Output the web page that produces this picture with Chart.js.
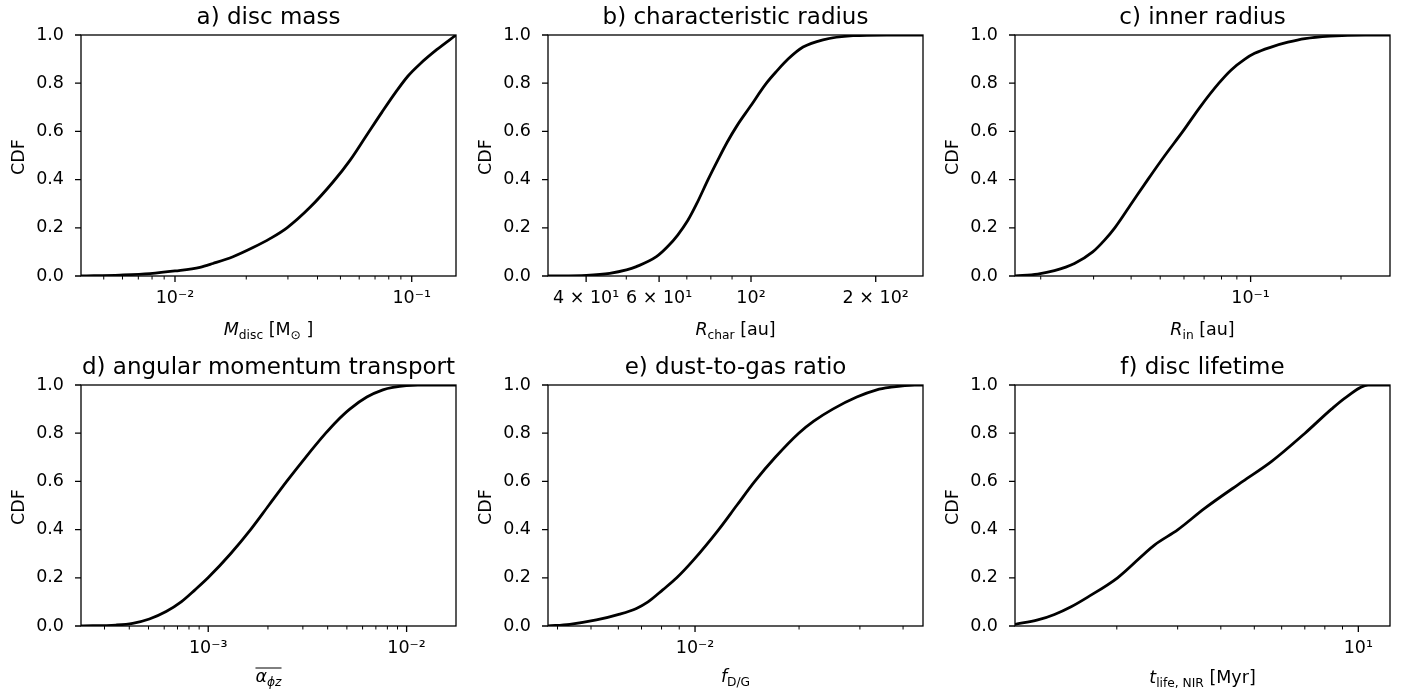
<!DOCTYPE html>
<html>
<head>
<meta charset="utf-8">
<script src="https://cdn.jsdelivr.net/npm/chart.js@4.4.1/dist/chart.umd.min.js"></script>
<style>
html,body{margin:0;padding:0;background:#ffffff;}
body{width:1408px;height:698px;position:relative;overflow:hidden;}
canvas{position:absolute;}
</style>
</head>
<body>
<canvas id="pa"></canvas>
<canvas id="pb"></canvas>
<canvas id="pc"></canvas>
<canvas id="pd"></canvas>
<canvas id="pe"></canvas>
<canvas id="pf"></canvas>
<script>
// ---------------- DATA ----------------
const panelTitles = ['a) disc mass', 'b) characteristic radius', 'c) inner radius',
                     'd) angular momentum transport', 'e) dust-to-gas ratio', 'f) disc lifetime'];
const yLabel = 'CDF';
const yTickValues = [0, 0.2, 0.4, 0.6, 0.8, 1.0];
const yTickLabels = ['0.0', '0.2', '0.4', '0.6', '0.8', '1.0'];

// a) disc mass [Msun]
const massX   = [0.004008, 0.005855, 0.007842, 0.01, 0.012752, 0.014468, 0.017579, 0.021359, 0.025199, 0.029725,
                 0.037190, 0.046504, 0.054857, 0.064097, 0.074899, 0.086657, 0.096466, 0.108396, 0.127888, 0.153850];
const massCdf = [0, 0.004, 0.010, 0.021, 0.036, 0.052, 0.080, 0.118, 0.155, 0.200,
                 0.285, 0.390, 0.48, 0.58, 0.68, 0.77, 0.83, 0.88, 0.94, 1.0];
const massRange = [0.004008, 0.15385];
const massMajor = [0.01, 0.1];
const massMajorLabels = ['10⁻²', '10⁻¹'];
const massMinor = [0.005, 0.006, 0.007, 0.008, 0.009, 0.02, 0.03, 0.04, 0.05, 0.06, 0.07, 0.08, 0.09];

// b) characteristic radius [au]
const rcharX   = [32.36, 40.07, 45.60, 50.05, 52.90, 59.11, 62.93, 66.54, 70.36, 73.95, 78.76, 83.10, 87.59,
                  92.62, 99.29, 108.95, 115.35, 122.86, 133.55, 149.20, 176.29, 212.3, 260.1];
const rcharCdf = [0, 0.003, 0.011, 0.025, 0.039, 0.08, 0.122, 0.17, 0.23, 0.30, 0.40, 0.48, 0.555,
                  0.625, 0.70, 0.80, 0.85, 0.90, 0.95, 0.98, 0.997, 1.0, 1.0];
const rcharRange = [32.36, 260.1];
const rcharMajor = [40, 60, 100, 200];
const rcharMajorLabels = ['4 × 10¹', '6 × 10¹', '10²', '2 × 10²'];
const rcharMinor = [50, 70, 80, 90];

// c) inner radius [au]
const rinX   = [0.016420, 0.019544, 0.022216, 0.025906, 0.029799, 0.032683, 0.035290, 0.040051, 0.045462, 0.051810, 0.059469,
                0.067766, 0.078404, 0.086178, 0.095717, 0.103117, 0.117070, 0.133131, 0.151705, 0.183781, 0.240436, 0.291205];
const rinCdf = [0, 0.008, 0.022, 0.052, 0.10, 0.15, 0.20, 0.30, 0.40, 0.50, 0.60,
                0.70, 0.80, 0.855, 0.90, 0.924, 0.95, 0.97, 0.985, 0.995, 1.0, 1.0];
const rinRange = [0.01642, 0.291205];
const rinMajor = [0.1];
const rinMajorLabels = ['10⁻¹'];
const rinMinor = [0.02, 0.03, 0.04, 0.05, 0.06, 0.07, 0.08, 0.09, 0.2];

// d) angular momentum transport
const alphaX   = [0.0002284, 0.0003429, 0.0004161, 0.0005051, 0.0006135, 0.0007305, 0.0008577, 0.0009977, 0.0012962, 0.0016354, 0.0020162,
                  0.0024857, 0.0030989, 0.0039112, 0.0044463, 0.0051708, 0.0063020, 0.0075920, 0.0085272, 0.0114017, 0.0177419];
const alphaCdf = [0, 0.004, 0.011, 0.029, 0.06, 0.10, 0.15, 0.20, 0.30, 0.40, 0.50,
                  0.60, 0.70, 0.80, 0.85, 0.90, 0.95, 0.98, 0.99, 1.0, 1.0];
const alphaRange = [0.0002284, 0.0177419];
const alphaMajor = [0.001, 0.01];
const alphaMajorLabels = ['10⁻³', '10⁻²'];
const alphaMinor = [0.0003, 0.0004, 0.0005, 0.0006, 0.0007, 0.0008, 0.0009, 0.002, 0.003, 0.004, 0.005, 0.006, 0.007, 0.008, 0.009];

// e) dust-to-gas ratio
const dgX   = [0.0037540, 0.0043379, 0.0051834, 0.0060539, 0.0067673, 0.0073107, 0.0080628, 0.0088522, 0.0098478, 0.0117074, 0.0131985,
               0.0148904, 0.0170690, 0.0199563, 0.0220574, 0.0250385, 0.0293800, 0.0335612, 0.0366026, 0.0432247, 0.0456800];
const dgCdf = [0, 0.007, 0.025, 0.049, 0.073, 0.10, 0.15, 0.20, 0.27, 0.40, 0.50,
               0.60, 0.70, 0.80, 0.85, 0.90, 0.95, 0.98, 0.99, 1.0, 1.0];
const dgRange = [0.003754, 0.04568];
const dgMajor = [0.01];
const dgMajorLabels = ['10⁻²'];
const dgMinor = [0.004, 0.005, 0.006, 0.007, 0.008, 0.009, 0.02, 0.03, 0.04];

// f) disc lifetime [Myr]
const tlifeX   = [1.0148, 1.181, 1.320, 1.475, 1.648, 2.01, 2.57, 3.006, 3.59, 4.63, 5.60, 7.01, 8.36, 9.23, 10.67, 12.35];
const tlifeCdf = [0.007, 0.025, 0.048, 0.08, 0.12, 0.20, 0.336, 0.40, 0.488, 0.60, 0.682, 0.80, 0.90, 0.95, 1.0, 1.0];
const tlifeRange = [1.0148, 12.35];
const tlifeMajor = [10];
const tlifeMajorLabels = ['10¹'];
const tlifeMinor = [2, 3, 4, 5, 6, 7, 8, 9];

// x-axis labels (rich text segments: it = italic, sub = subscript)
const xLabels = [
  [{t:'M', it:1}, {t:'disc', sub:1}, {t:' [M'}, {t:'⊙', sub:1}, {t:' ]'}],
  [{t:'R', it:1}, {t:'char', sub:1}, {t:' [au]'}],
  [{t:'R', it:1}, {t:'in', sub:1}, {t:' [au]'}],
  [{t:'α', it:1}, {t:'ϕz', sub:1, it:1}],
  [{t:'f', it:1}, {t:'D/G', sub:1}],
  [{t:'t', it:1}, {t:'life, NIR', sub:1}, {t:' [Myr]'}]
];
const xLabelOverline = [false, false, false, true, false, false];

// ---------------- RENDERING ----------------
const FONT = '"DejaVu Sans", "Liberation Sans", sans-serif';
const TICK_SIZE = 17.5, LABEL_SIZE = 17.5, TITLE_SIZE = 23;

function drawRich(ctx, segs, cx, baseY, size, overline) {
  const parts = segs.map(s => {
    const sz = s.sub ? size * 0.7 : size;
    const font = (s.it ? 'italic ' : '') + sz + 'px ' + FONT;
    ctx.font = font;
    return {s, font, w: ctx.measureText(s.t).width};
  });
  const total = parts.reduce((a, p) => a + p.w, 0);
  let x = cx - total / 2;
  ctx.textAlign = 'left';
  ctx.textBaseline = 'alphabetic';
  parts.forEach(p => {
    ctx.font = p.font;
    ctx.fillText(p.s.t, x, baseY + (p.s.sub ? size * 0.2 : 0));
    x += p.w;
  });
  if (overline) {
    ctx.beginPath();
    ctx.lineWidth = 1;
    const oy = baseY - size * 0.8;
    ctx.moveTo(cx - total / 2, oy);
    ctx.lineTo(cx + total / 2, oy);
    ctx.stroke();
  }
}

const framePlugin = {
  id: 'frame',
  afterDraw(chart) {
    const o = chart.options.plugins.frame;
    const ctx = chart.ctx, a = chart.chartArea;
    const xs = chart.scales.x, ys = chart.scales.y;
    ctx.save();
    ctx.strokeStyle = '#000';
    ctx.fillStyle = '#000';
    ctx.lineWidth = 1.3;
    ctx.strokeRect(a.left, a.top, a.right - a.left, a.bottom - a.top);
    ctx.beginPath();
    o.major.forEach(v => { const p = xs.getPixelForValue(v); ctx.moveTo(p, a.bottom); ctx.lineTo(p, a.bottom + 6); });
    yTickValues.forEach(v => { const p = ys.getPixelForValue(v); ctx.moveTo(a.left, p); ctx.lineTo(a.left - 6, p); });
    ctx.stroke();
    ctx.lineWidth = 1;
    ctx.beginPath();
    o.minor.forEach(v => { const p = xs.getPixelForValue(v); ctx.moveTo(p, a.bottom); ctx.lineTo(p, a.bottom + 3.5); });
    ctx.stroke();
    const cx = (a.left + a.right) / 2;
    // title
    ctx.font = TITLE_SIZE + 'px ' + FONT;
    ctx.textAlign = 'center';
    ctx.textBaseline = 'alphabetic';
    ctx.fillText(o.title, cx, a.top - 11.5);
    // y label
    ctx.save();
    ctx.translate(a.left - 57, (a.top + a.bottom) / 2 + 1.5);
    ctx.rotate(-Math.PI / 2);
    ctx.font = LABEL_SIZE + 'px ' + FONT;
    ctx.textAlign = 'center';
    ctx.fillText(yLabel, 0, 0);
    ctx.restore();
    // x label
    drawRich(ctx, o.xlabel, cx, a.bottom + o.xlabelDy, LABEL_SIZE, o.overline);
    ctx.restore();
  }
};

const panels = [
  {id:'pa', left:0,   top:0,   x:massX,  y:massCdf,  range:massRange,  major:massMajor,  majorLabels:massMajorLabels,  minor:massMinor,  dy:59},
  {id:'pb', left:467, top:0,   x:rcharX, y:rcharCdf, range:rcharRange, major:rcharMajor, majorLabels:rcharMajorLabels, minor:rcharMinor, dy:59},
  {id:'pc', left:934, top:0,   x:rinX,   y:rinCdf,   range:rinRange,   major:rinMajor,   majorLabels:rinMajorLabels,   minor:rinMinor,   dy:59},
  {id:'pd', left:0,   top:350, x:alphaX, y:alphaCdf, range:alphaRange, major:alphaMajor, majorLabels:alphaMajorLabels, minor:alphaMinor, dy:56},
  {id:'pe', left:467, top:350, x:dgX,    y:dgCdf,    range:dgRange,    major:dgMajor,    majorLabels:dgMajorLabels,    minor:dgMinor,    dy:56},
  {id:'pf', left:934, top:350, x:tlifeX, y:tlifeCdf, range:tlifeRange, major:tlifeMajor, majorLabels:tlifeMajorLabels, minor:tlifeMinor, dy:57}
];

const CW = 471, CH = 344;

panels.forEach((p, i) => {
  const cv = document.getElementById(p.id);
  cv.style.left = p.left + 'px';
  cv.style.top = p.top + 'px';
  cv.width = CW; cv.height = CH;
  cv.style.width = CW + 'px'; cv.style.height = CH + 'px';
  new Chart(cv, {
    type: 'line',
    data: {
      datasets: [{
        data: p.x.map((v, k) => ({x: v, y: p.y[k]})),
        borderColor: '#000000',
        borderWidth: 2.8,
        pointRadius: 0,
        fill: false,
        cubicInterpolationMode: 'monotone'
      }]
    },
    options: {
      responsive: false,
      animation: false,
      devicePixelRatio: 1,
      events: [],
      layout: {autoPadding: false, padding: {top: 35, right: 15, left: 0, bottom: 0}},
      plugins: {
        legend: {display: false},
        tooltip: {enabled: false},
        title: {display: false},
        frame: {title: panelTitles[i], major: p.major, minor: p.minor, xlabel: xLabels[i], overline: xLabelOverline[i], xlabelDy: p.dy}
      },
      scales: {
        x: {
          type: 'logarithmic',
          min: p.range[0], max: p.range[1],
          grid: {display: false, drawTicks: false},
          border: {display: false},
          afterBuildTicks: s => { s.ticks = p.major.map(v => ({value: v, major: true})); },
          ticks: {
            autoSkip: false, maxRotation: 0, minRotation: 0, padding: 13.75,
            color: '#000', font: {family: FONT, size: TICK_SIZE, lineHeight: 1},
            callback: (v, idx) => p.majorLabels[idx]
          },
          afterFit: s => { s.height = CH - 276; s.paddingLeft = 0; s.paddingRight = 0; s.paddingTop = 0; s.paddingBottom = 0; }
        },
        y: {
          type: 'linear', min: 0, max: 1,
          grid: {display: false, drawTicks: false},
          border: {display: false},
          afterBuildTicks: s => { s.ticks = yTickValues.map(v => ({value: v})); },
          ticks: {
            autoSkip: false, padding: 17,
            color: '#000', font: {family: FONT, size: TICK_SIZE, lineHeight: 1},
            callback: (v, idx) => yTickLabels[idx]
          },
          afterFit: s => { s.width = 81; s.paddingTop = 0; s.paddingBottom = 0; s.paddingLeft = 0; s.paddingRight = 0; }
        }
      }
    },
    plugins: [framePlugin]
  });
});
</script>
</body>
</html>
